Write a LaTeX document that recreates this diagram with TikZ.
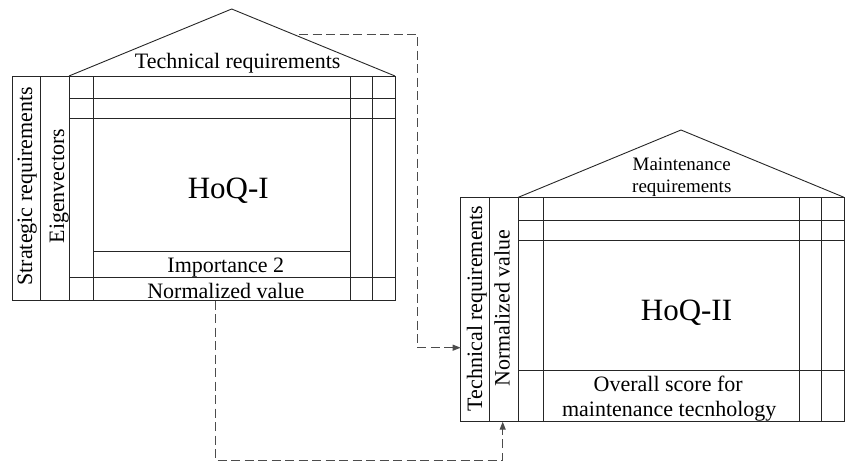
\documentclass[tikz,border=0pt]{standalone}
\usepackage{fontspec}
\setmainfont{Liberation Serif}
\usetikzlibrary{arrows.meta,calc}
\tikzset{
  grid/.style={draw=black!85,line width=0.9pt},
  flow/.style={draw=black!70,line width=1pt,dash pattern=on 9pt off 4.5pt,-{Triangle[length=8pt,width=6pt]}},
  lbl/.style={inner sep=0pt,anchor=base,font=\fontsize{22}{26}\selectfont},
  sml/.style={inner sep=0pt,anchor=base,font=\fontsize{19}{22}\selectfont},
  big/.style={inner sep=0pt,anchor=base,font=\fontsize{31}{36}\selectfont},
  vlbl/.style={lbl,rotate=90}
}
\begin{document}
\begin{tikzpicture}[x=1pt,y=-1pt]
\useasboundingbox (0,0) rectangle (846,463);
% ---------- HoQ-I ----------
\draw[grid] (12.7,76) rectangle (395,300.7);
\foreach \x in {40.7,69,93.3,350,372.3} \draw[grid] (\x,76) -- (\x,300.7);
\foreach \y in {98.3,118.3,277.7} \draw[grid] (69,\y) -- (395,\y);
\draw[grid] (93.3,251) -- (350,251);
\coordinate (apexA) at (231.7,9);
\coordinate (roofAL) at (69,76);
\coordinate (roofAR) at (395,76);
\draw[grid] (roofAL) -- (apexA) -- (roofAR);
\node[lbl] (trA) at (237.7,68) {Technical requirements};
\node[big] (hoq1) at (228.3,198) {HoQ-I};
\node[lbl] (imp) at (225.8,272) {Importance 2};
\node[lbl] (nvA) at (225.8,298.3) {Normalized value};
\node[vlbl] (strat) at (32,186.2) {Strategic requirements};
\node[vlbl] (eig) at (64,186) {Eigenvectors};
% ---------- HoQ-II ----------
\draw[grid] (460.7,197.3) rectangle (844,421.7);
\foreach \x in {489,518.3,543.3,799.3,821.7} \draw[grid] (\x,197.3) -- (\x,421.7);
\foreach \y in {220,240,370.7} \draw[grid] (518.3,\y) -- (844,\y);
\coordinate (apexB) at (681,130);
\coordinate (roofBL) at (518.3,197.3);
\coordinate (roofBR) at (844,197.3);
\draw[grid] (roofBL) -- (apexB) -- (roofBR);
\node[sml] (mrA) at (681.7,170.5) {Maintenance};
\node[sml] (mrB) at (681.8,192) {requirements};
\node[big] (hoq2) at (686.5,320) {HoQ-II};
\node[lbl] (ovA) at (668.2,391.5) {Overall score for};
\node[lbl] (ovB) at (669.2,416.5) {maintenance tecnhology};
\node[vlbl] (trB) at (482,308.3) {Technical requirements};
\node[vlbl] (nvB) at (509.6,308.3) {Normalized value};
% ---------- connectors ----------
\coordinate (srcA) at (299,34);
\coordinate (dstA) at (460.7,347.7);
\coordinate (srcB) at (215,300.7);
\coordinate (dstB) at (502.7,421.7);
\draw[flow] (srcA) -- (417.3,34) -- (417.3,347.7) -- (dstA);
\draw[flow] (srcB) -- (215,460) -- (502.7,460) -- (dstB);
\end{tikzpicture}
\end{document}
